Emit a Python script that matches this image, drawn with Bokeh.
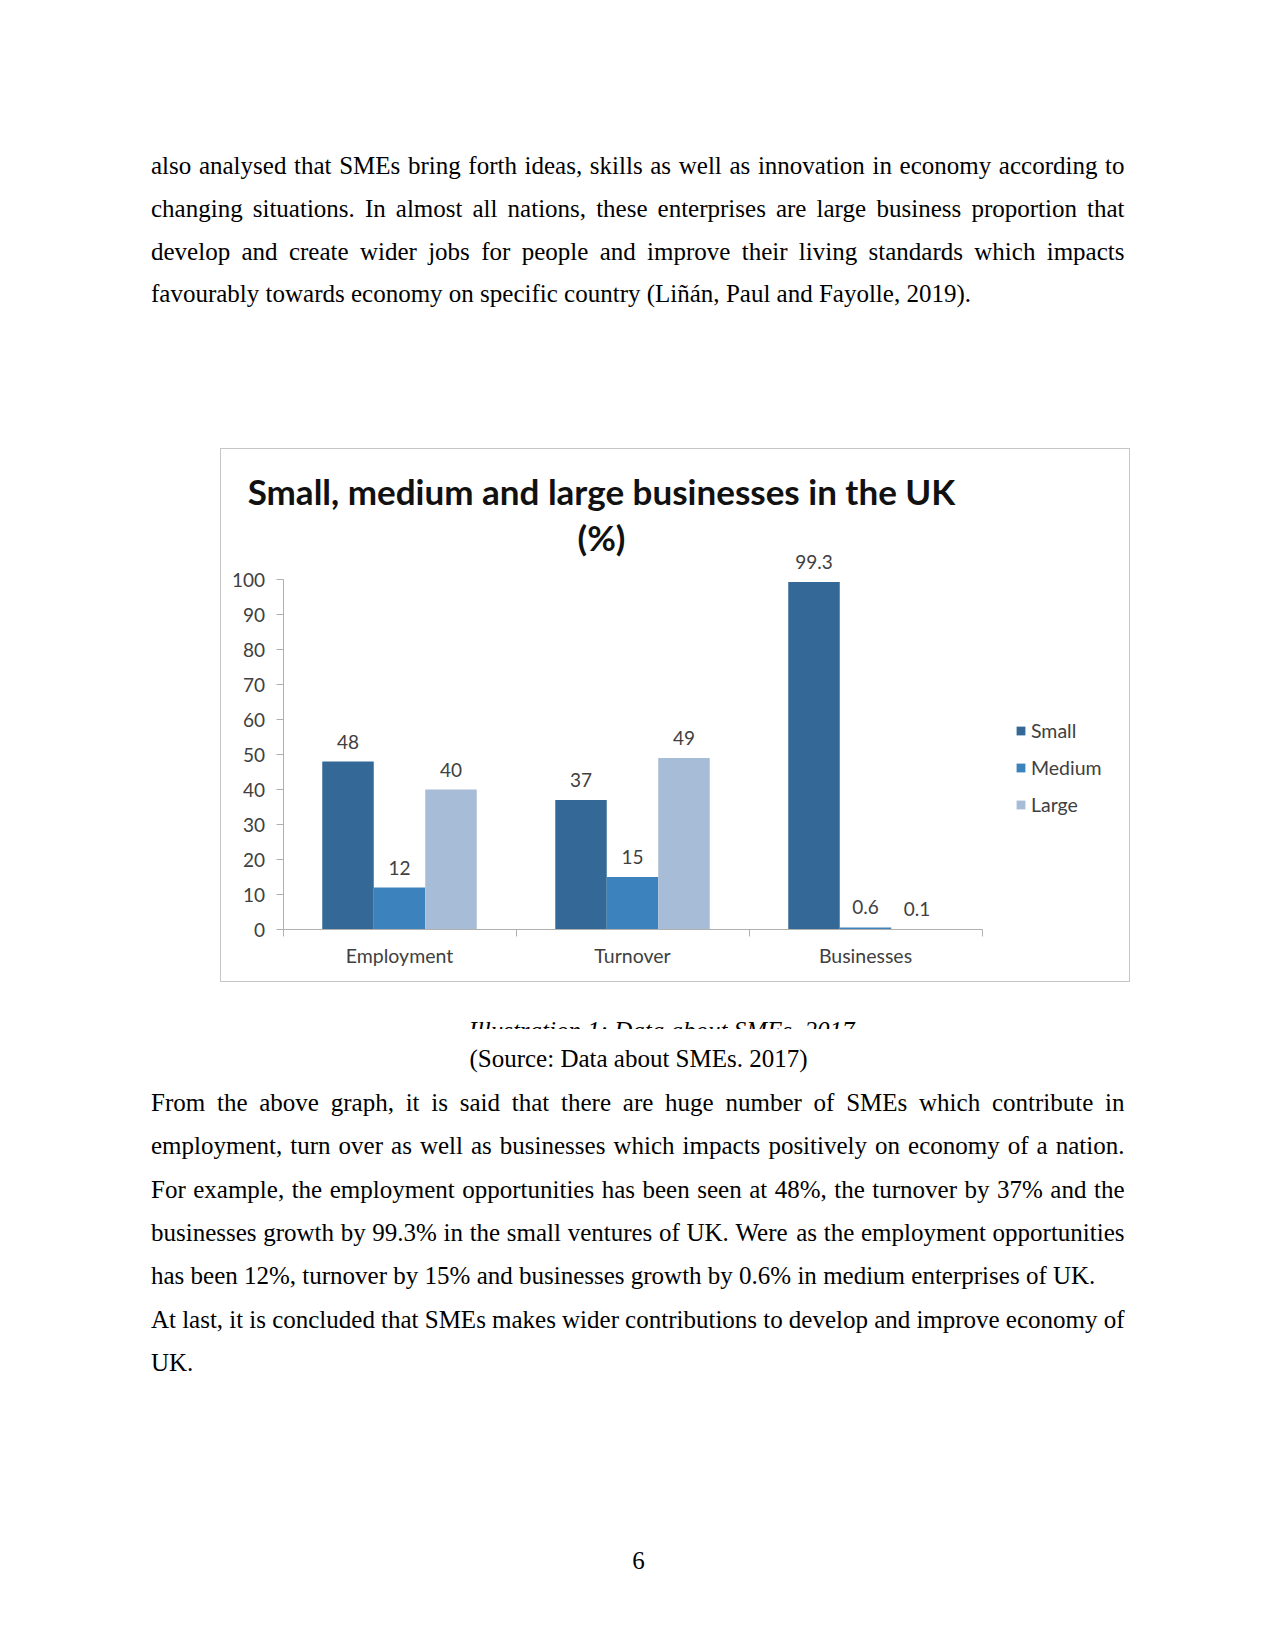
from bokeh.plotting import figure
from bokeh.models import (ColumnDataSource, Range1d, FixedTicker, Legend, LegendItem,
                          LabelSet, Label, Spacer)
from bokeh.layouts import column, row
from bokeh.core.properties import value
from bokeh.embed import file_html
from bokeh.resources import INLINE
from bokeh.transform import dodge

# ---------------- data ----------------
categories = ["Employment", "Turnover", "Businesses"]
series_names = ["Small", "Medium", "Large"]
small = [48, 37, 99.3]
medium = [12, 15, 0.6]
large = [40, 49, 0.1]
y_ticks = [0, 10, 20, 30, 40, 50, 60, 70, 80, 90, 100]
chart_title = ["Small, medium and large businesses in the UK", "(%)"]

para1 = [
    "also analysed that SMEs bring forth ideas, skills as well as innovation in economy according to",
    "changing situations. In almost all nations, these enterprises are large business proportion that",
    "develop and create wider jobs for people and improve their living standards which impacts",
    "favourably towards economy on specific country (Liñán, Paul and Fayolle, 2019).",
]
para1_justify = [True, True, True, False]
para2 = [
    "From the above graph, it is said that there are huge number of SMEs which contribute in",
    "employment, turn over as well as businesses which impacts positively on economy of a nation.",
    "For example, the employment opportunities has been seen at 48%, the turnover by 37% and the",
    "businesses growth by 99.3% in the small ventures of UK. Were as the employment opportunities",
    "has been 12%, turnover by 15% and businesses growth by 0.6% in medium enterprises of UK.",
    "At last, it is concluded that SMEs makes wider contributions to develop and improve economy of",
    "UK.",
]
para2_justify = [True, True, True, True, False, True, False]
caption = "Illustration 1: Data about SMEs. 2017"
source_note = "(Source: Data about SMEs. 2017)"
page_number = "6"

# ---------------- styling ----------------
SERIF = "Liberation Serif"
SANS = "Lato"
FS = 25
colors = ["#336897", "#3c82bd", "#a7bcd7"]
axis_gray = "#b0b0b0"
label_gray = "#404040"
TEXT_DY = 8  # baseline correction for page text

# Times / Liberation Serif advance widths (per 1000 em)
TW = {' ': 250, '%': 833, '(': 333, ')': 333, ',': 250, '-': 333, '.': 250, ':': 278, ';': 278,
      'A': 722, 'B': 667, 'C': 667, 'D': 722, 'E': 611, 'F': 556, 'G': 722, 'H': 722, 'I': 333,
      'J': 389, 'K': 722, 'L': 611, 'M': 889, 'N': 722, 'O': 722, 'P': 556, 'Q': 722, 'R': 667,
      'S': 556, 'T': 611, 'U': 722, 'V': 722, 'W': 944, 'X': 722, 'Y': 722, 'Z': 611,
      'a': 444, 'b': 500, 'c': 444, 'd': 500, 'e': 444, 'f': 333, 'g': 500, 'h': 500, 'i': 278,
      'j': 278, 'k': 500, 'l': 278, 'm': 778, 'n': 500, 'o': 500, 'p': 500, 'q': 500, 'r': 333,
      's': 389, 't': 278, 'u': 500, 'v': 500, 'w': 722, 'x': 500, 'y': 500, 'z': 444,
      'ñ': 500, 'á': 444}


def tw(s, fs=FS):
    return sum(TW.get(c, 500) for c in s) * fs / 1000.0


def page_fig(y_top, y_bot):
    p = figure(width=1259, height=int(round(y_bot - y_top)),
               x_range=Range1d(0, 1259),
               y_range=Range1d(y_bot + TEXT_DY, y_top + TEXT_DY),
               output_backend="svg", toolbar_location=None,
               x_axis_location=None, y_axis_location=None, min_border=0)
    p.grid.visible = False
    p.outline_line_color = None
    p.background_fill_color = "white"
    p.border_fill_color = "white"
    return p


def add_paragraph(p, lines, justify, x_left, x_right, y0, dy):
    xs, ys, ts = [], [], []
    width = x_right - x_left
    for i, (line, just) in enumerate(zip(lines, justify)):
        words = line.split(" ")
        y = y0 + i * dy
        wsum = sum(tw(w) for w in words)
        if just and len(words) > 1:
            gap = (width - wsum) / (len(words) - 1)
        else:
            gap = tw(" ")
        x = x_left
        for w in words:
            xs.append(x)
            ys.append(y)
            ts.append(w)
            x += tw(w) + gap
    p.text(x=xs, y=ys, text=ts, text_font=value(SERIF), text_font_size=f"{FS}px",
           text_align="left", text_baseline="alphabetic", text_color="black")


X_LEFT, X_RIGHT = 150.5, 1124.0

# ---------------- top text ----------------
top = page_fig(0, 448)
add_paragraph(top, para1, para1_justify, X_LEFT, X_RIGHT, 173.3, 42.67)

# ---------------- chart ----------------
PX_PER_CAT = 233.0
PX_PER_UNIT = 3.5
X0_PX, Y0_PX = 282.5, 929.0          # where x=0, y=0 fall on the page
C_LEFT, C_RIGHT, C_TOP, C_BOT = 221, 1129, 449, 981

chart = figure(width=C_RIGHT - C_LEFT, height=C_BOT - C_TOP,
               x_range=Range1d((C_LEFT - X0_PX) / PX_PER_CAT, (C_RIGHT - X0_PX) / PX_PER_CAT),
               y_range=Range1d((Y0_PX - C_BOT) / PX_PER_UNIT, (Y0_PX - C_TOP) / PX_PER_UNIT),
               output_backend="svg", toolbar_location=None, min_border=0)
chart.styles = {"outline": "1px solid #c6c6c6"}
chart.grid.visible = False
chart.outline_line_color = None
chart.background_fill_color = "white"
chart.border_fill_color = "white"

src = ColumnDataSource(dict(
    x=[i + 0.5 for i in range(len(categories))],
    Small=small, Medium=medium, Large=large,
    Small_lbl=[f"{v:g}" for v in small],
    Medium_lbl=[f"{v:g}" for v in medium],
    Large_lbl=[f"{v:g}" for v in large],
))

bar_w = 0.221
offsets = [-bar_w, 0.0, bar_w]
renderers = []
for name, off, col in zip(series_names, offsets, colors):
    r = chart.vbar(x=dodge("x", off), top=name, width=bar_w, source=src,
                   fill_color=col, line_color=None)
    renderers.append(r)
    chart.add_layout(LabelSet(x=dodge("x", off), y=name, text=f"{name}_lbl", source=src,
                              y_offset=20, text_align="center", text_baseline="middle",
                              text_font=value(SANS), text_font_size="19px",
                              text_color=label_gray))

# axes (drawn at the data origin inside the chart area)
yax = chart.yaxis[0]
yax.fixed_location = 0
yax.ticker = FixedTicker(ticks=y_ticks, minor_ticks=[])
yax.bounds = (0, 100)
yax.axis_line_color = axis_gray
yax.major_tick_line_color = axis_gray
yax.major_tick_out = 7
yax.major_tick_in = 0
yax.minor_tick_line_color = None
yax.major_label_standoff = 11
yax.major_label_text_font = SANS
yax.major_label_text_font_size = "19px"
yax.major_label_text_color = label_gray

xax = chart.xaxis[0]
xax.fixed_location = 0
xax.ticker = FixedTicker(ticks=[i + 0.5 for i in range(len(categories))],
                         minor_ticks=list(range(len(categories) + 1)))
xax.major_label_overrides = {i + 0.5: c for i, c in enumerate(categories)}
xax.bounds = (0, len(categories))
xax.axis_line_color = axis_gray
xax.major_tick_line_color = None
xax.major_tick_out = 0
xax.major_tick_in = 0
xax.minor_tick_line_color = axis_gray
xax.minor_tick_out = 7
xax.minor_tick_in = 0
xax.major_label_standoff = 7
xax.major_label_text_font = SANS
xax.major_label_text_font_size = "19.5px"
xax.major_label_text_color = label_gray

# title
for txt, ypx in zip(chart_title, [490, 536]):
    chart.add_layout(Label(x=(601 - X0_PX) / PX_PER_CAT, y=(Y0_PX - ypx) / PX_PER_UNIT, text=txt,
                           text_align="center", text_baseline="middle",
                           text_font=SANS, text_font_style="bold",
                           text_font_size="35px", text_color="#111111"))

legend = Legend(items=[LegendItem(label=n, renderers=[r]) for n, r in zip(series_names, renderers)],
                location=(1015 - C_LEFT, C_BOT - 816), orientation="vertical",
                glyph_width=11, glyph_height=11, label_standoff=5,
                padding=0, margin=0, spacing=14, label_height=20,
                border_line_color=None, background_fill_alpha=0,
                label_text_font=SANS, label_text_font_size="19.5px",
                label_text_color=label_gray)
chart.add_layout(legend)

chart_row = row(
    Spacer(width=C_LEFT, height=534),
    column(Spacer(width=C_RIGHT - C_LEFT, height=1), chart,
           Spacer(width=C_RIGHT - C_LEFT, height=1)),
    Spacer(width=1259 - C_RIGHT, height=534),
)

# ---------------- caption (clipped at its lower part) ----------------
cap = page_fig(982, 1029)
cap.text(x=[661], y=[1020], text=[caption], y_offset=17.5,
         text_font=value(SERIF), text_font_style="italic", text_font_size=f"{FS}px",
         text_align="center", text_baseline="alphabetic", text_color="black")

# ---------------- bottom text ----------------
bot = page_fig(1029, 1642)
bot.text(x=[638], y=[1066], text=[source_note], text_font=value(SERIF),
         text_font_size=f"{FS}px", text_align="center", text_baseline="alphabetic",
         text_color="black")
add_paragraph(bot, para2, para2_justify, X_LEFT, X_RIGHT, 1110.0, 43.33)
bot.text(x=[638], y=[1568], text=[page_number], text_font=value(SERIF),
         text_font_size=f"{FS}px", text_align="center", text_baseline="alphabetic",
         text_color="black")

layout = column(top, chart_row, cap, bot)
open("out.html", "w").write(file_html(layout, INLINE))
